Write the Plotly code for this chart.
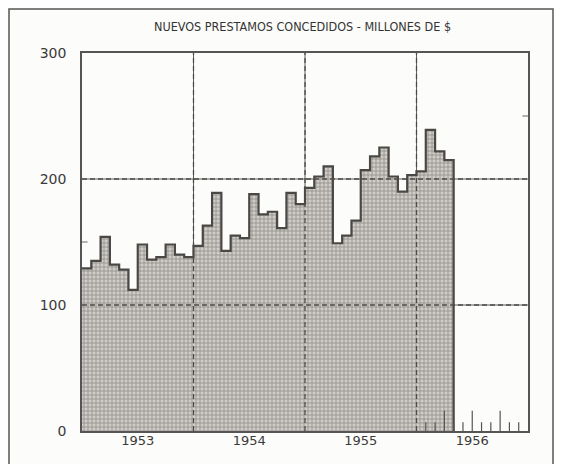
import plotly.graph_objects as go

# ---- data (millions of $ per month) ----
years = ["1953", "1954", "1955", "1956"]
values_1953 = [129, 135, 154, 132, 128, 112, 148, 136, 138, 148, 140, 138]
values_1954 = [147, 163, 189, 143, 155, 153, 188, 172, 174, 161, 189, 180]
values_1955 = [193, 202, 210, 149, 155, 167, 207, 218, 225, 202, 190, 203]
values_1956 = [206, 239, 222, 215]
y_ticks = [0, 100, 200, 300]
title_text = "NUEVOS PRESTAMOS CONCEDIDOS - MILLONES DE $"

values = values_1953 + values_1954 + values_1955 + values_1956
n = len(values)
xs = list(range(n)) + [n, n]
ys = values + [values[-1], 0]

# page body has an 8px margin: figure coordinates = window coordinates - 8
OFF = 8
W, H = 562 - OFF, 464 - OFF
L, T = 82 - OFF, 53 - OFF
R = W - (528 - OFF)
B = H - (431 - OFF)
pw, ph = W - L - R, H - T - B

def px_x(p):
    return (p - OFF - L) / pw

def px_y(p):
    return (H - B - (p - OFF)) / ph

fig = go.Figure()
# solid grid (visible in the white area)
for k in range(1, len(years)):
    fig.add_shape(type="line", xref="x", yref="y", x0=12 * k, x1=12 * k, y0=0, y1=300,
                  line=dict(color="#5f5e5b", width=1), layer="below")
for v in y_ticks[1:-1]:
    fig.add_shape(type="line", xref="x", yref="y", x0=0, x1=48, y0=v, y1=v,
                  line=dict(color="#5f5e5b", width=1), layer="below")

fig.add_trace(go.Scatter(
    x=xs, y=ys, mode="lines", line_shape="hv",
    line=dict(color="#4a4845", width=2.2),
    fill="tozeroy", fillcolor="#cac7c2",
    fillpattern=dict(shape="+", size=4, solidity=0.35,
                     fgcolor="#8e8b86", bgcolor="#d0cdc8", fillmode="replace"),
    hoverinfo="skip", showlegend=False,
))

# dashed grid over the shaded area
for k in range(1, len(years)):
    fig.add_shape(type="line", xref="x", yref="y", x0=12 * k, x1=12 * k, y0=0, y1=300,
                  line=dict(color="#4d4b48", width=1.3, dash="5px,3px"), layer="above")
for v in y_ticks[1:-1]:
    fig.add_shape(type="line", xref="x", yref="y", x0=0, x1=48, y0=v, y1=v,
                  line=dict(color="#4d4b48", width=1.3, dash="5px,3px"), layer="above")
# month ticks for 1956
for m in range(37, 48):
    tall = (m - 36) % 3 == 0
    fig.add_shape(type="line", xref="x", yref="y", x0=m, x1=m, y0=0, y1=16 if tall else 7,
                  line=dict(color="#555", width=1.2), layer="above")
# small minor ticks on frame
fig.add_shape(type="line", xref="x", yref="y", x0=0, x1=0.6, y0=150, y1=150,
              line=dict(color="#666", width=1))
fig.add_shape(type="line", xref="x", yref="y", x0=47.4, x1=48, y0=250, y1=250,
              line=dict(color="#666", width=1))
# outer frame of the page
fig.add_shape(type="rect", xref="paper", yref="paper",
              x0=px_x(9), x1=px_x(553), y0=px_y(480), y1=px_y(9),
              line=dict(color="#555", width=1.5), fillcolor="rgba(0,0,0,0)")

fig.update_layout(
    width=W, height=H,
    margin=dict(l=L, r=R, t=T, b=B, autoexpand=False),
    paper_bgcolor="#fcfcfa", plot_bgcolor="#fcfcfa",
    annotations=[dict(text=title_text, xref="paper", yref="paper",
                      x=px_x(302), y=px_y(27), yanchor="middle", showarrow=False,
                      font=dict(family="Liberation Sans Narrow, DejaVu Sans Condensed", size=12.5, color="#333"))],
    xaxis=dict(range=[0, 48], tickvals=[6, 18, 30, 42], ticktext=years,
               showgrid=False, zeroline=False, ticks="", automargin=False,
               showline=True, mirror=True, linecolor="#555", linewidth=1.5, ticklabelstandoff=-3,
               tickfont=dict(family="DejaVu Sans", size=13, color="#3a3a3a")),
    yaxis=dict(range=[0, 300], tickvals=y_ticks, ticktext=[str(v) for v in y_ticks],
               showgrid=False, zeroline=False, ticks="", automargin=False,
               showline=True, mirror=True, linecolor="#555", linewidth=1.5, ticklabelstandoff=11,
               tickfont=dict(family="DejaVu Sans", size=14, color="#3a3a3a")),
)

fig.write_html("out.html")
